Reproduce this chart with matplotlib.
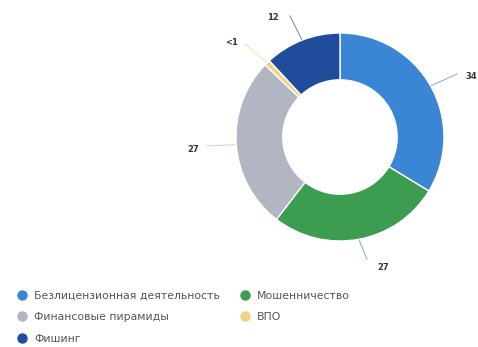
import numpy as np
import matplotlib.pyplot as plt
from matplotlib.lines import Line2D

# Data
categories = ['Безлицензионная деятельность', 'Мошенничество', 'Финансовые пирамиды', 'ВПО', 'Фишинг']
values = [34, 27, 27, 0.9, 12]
labels = ['34', '27', '27', '<1', '12']
colors = ['#3b86d4', '#3c9d50', '#b2b6c2', '#f3d283', '#1f4c9b']

# label positions (pixels, y from top) for each slice
label_pos = [(471, 76), (383, 268), (193, 149), (232, 42), (273, 17)]
line_end = [(457, 74), (367, 259), (207, 146), (245, 44), (290, 16)]

W, H = 478, 347
cx, cy, R = 340, 137, 104

fig = plt.figure(figsize=(W / 100, H / 100), dpi=100)
ax = fig.add_axes([0, 0, 1, 1])
ax.axis('off')

wedges, _ = ax.pie(values, colors=colors, startangle=90, counterclock=False,
                   center=(cx, H - cy), radius=R,
                   wedgeprops=dict(width=R * 0.45, edgecolor='white', linewidth=1))
ax.set_xlim(0, W)
ax.set_ylim(0, H)

for w, lab, pos, end, col in zip(wedges, labels, label_pos, line_end, colors):
    ang = np.deg2rad((w.theta1 + w.theta2) / 2)
    x0 = cx + (R + 1) * np.cos(ang)
    y0 = (H - cy) + (R + 1) * np.sin(ang)
    ax.plot([x0, end[0]], [y0, H - end[1]], color=col, alpha=0.6, lw=0.8)
    ax.text(pos[0], H - pos[1], lab, fontsize=6, fontweight='bold',
            color='#333333', ha='center', va='center')

# Legend
order = [0, 2, 4, 1, 3]
handles = [Line2D([], [], marker='o', linestyle='', markersize=6.5,
                  markerfacecolor=colors[i], markeredgecolor=colors[i]) for i in order]
fig.legend(handles, [categories[i] for i in order], ncol=2, loc='upper left',
           bbox_to_anchor=(0.015, 0.19), frameon=False, fontsize=7.8,
           labelcolor='#555555', handletextpad=0.6, columnspacing=1.8,
           labelspacing=1.05, handlelength=1.0)

fig.savefig('out.png', dpi=100)
